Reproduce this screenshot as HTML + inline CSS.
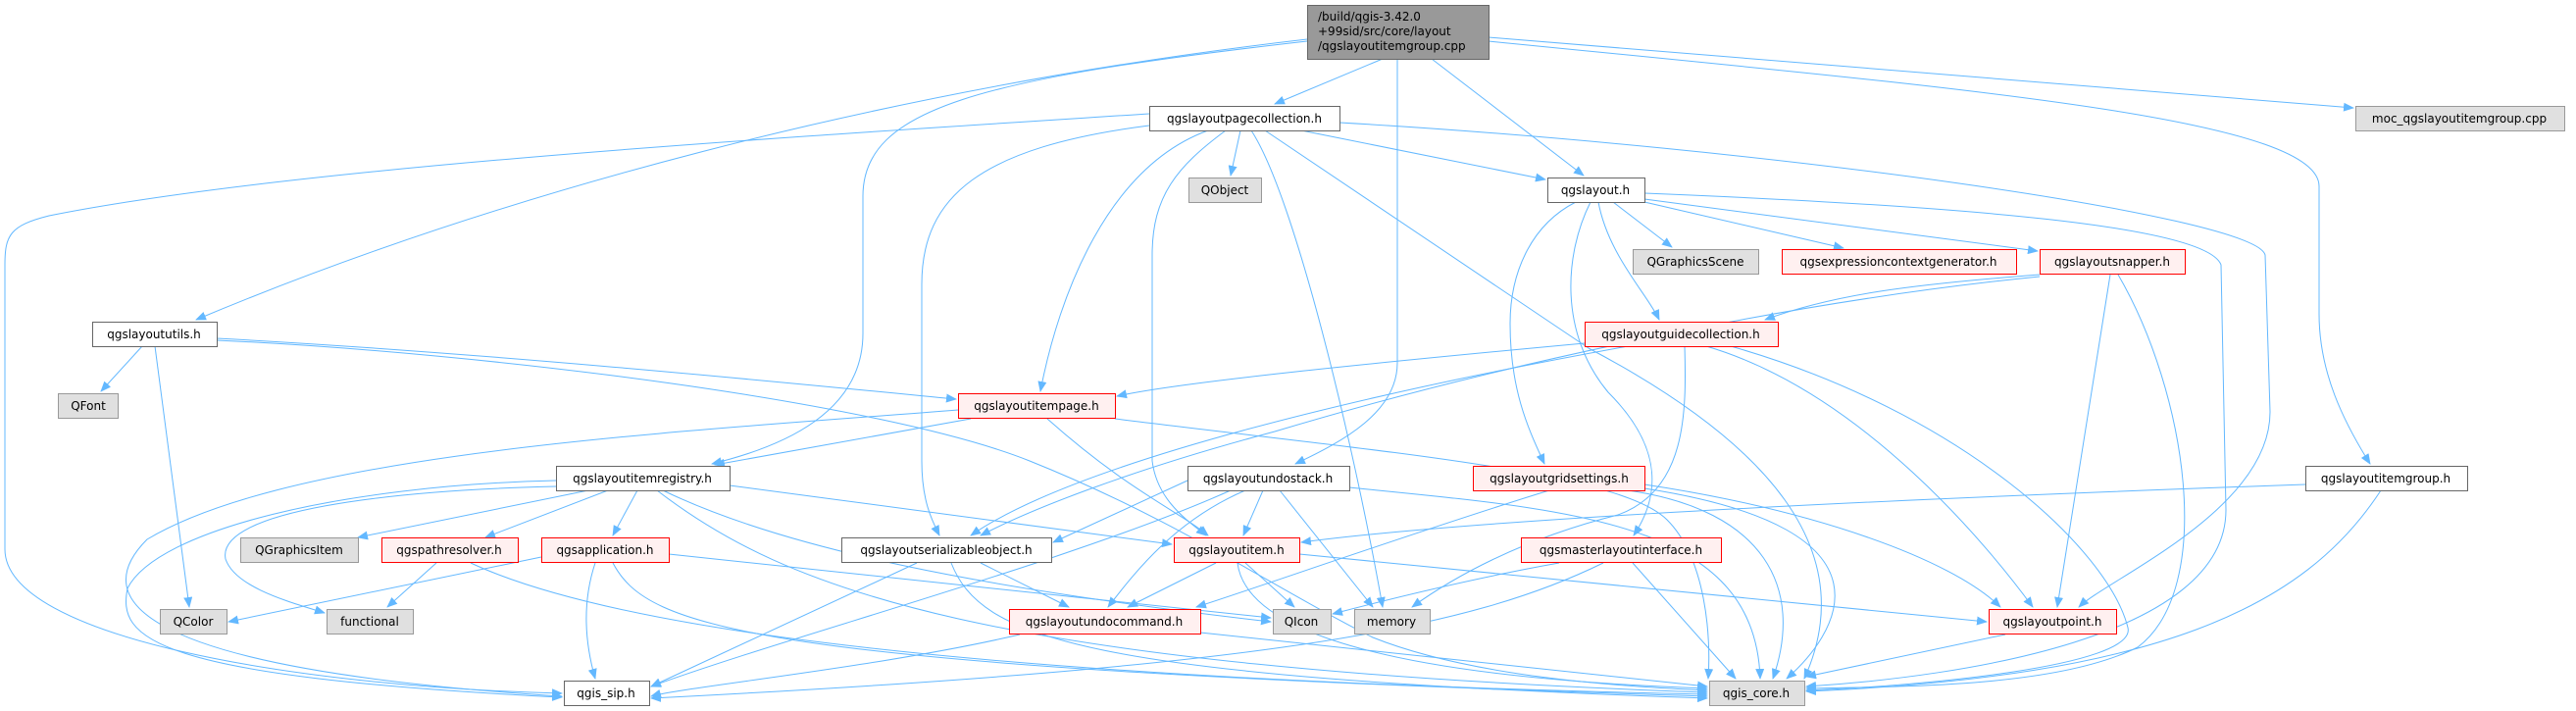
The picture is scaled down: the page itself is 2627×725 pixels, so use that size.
<!DOCTYPE html>
<html><head><meta charset="utf-8"><style>
html,body{margin:0;padding:0;background:#fff;}
svg{display:block;}
text{font-family:"DejaVu Sans","Liberation Sans",sans-serif;font-size:12px;fill:#000;}
.e{fill:none;stroke:#63b8ff;stroke-width:1;}
.w{fill:#fff;stroke:#666;}
.g{fill:#e0e0e0;stroke:#999;}
.r{fill:#fff0f0;stroke:#ff0000;}
</style></head><body>
<svg width="2627" height="725" viewBox="0 0 2627 725" xmlns="http://www.w3.org/2000/svg">
<defs><marker id="a" markerWidth="11" markerHeight="9" refX="10" refY="4.5" orient="auto" markerUnits="userSpaceOnUse"><path d="M0,0 L11,4.5 L0,9 z" fill="#63b8ff"/></marker></defs>
<g class="e" marker-end="url(#a)">
<path d="M1410,60 L1300,106"/>
<path d="M1460,60 L1615,179"/>
<path d="M1425,60 L1425,370 C1425,420 1370,450 1321,473"/>
<path d="M1333,40 C900,90 500,200 200,326"/>
<path d="M1333,42 C1000,80 880,110 880,200 L880,340 C880,420 800,455 726,473"/>
<path d="M1518,38 L2400,110"/>
<path d="M1518,42 C2000,90 2365,120 2365,190 L2365,320 C2365,380 2390,430 2417,473"/>
<path d="M1172,116 C800,140 300,170 50,220 C10,230 5,240 5,270 L5,560 C5,650 300,700 573,707"/>
<path d="M1172,128 C1000,150 940,200 940,290 L940,470 C940,510 950,530 958,546"/>
<path d="M1232,133 C1130,170 1080,300 1061,399"/>
<path d="M1265,133 L1255,179"/>
<path d="M1250,133 C1200,170 1175,200 1175,260 L1175,470 C1180,510 1210,530 1230,546"/>
<path d="M1276,133 C1320,200 1380,450 1410,619"/>
<path d="M1290,133 L1620,355 C1800,450 1900,560 1840,692"/>
<path d="M1327,133 L1576,183"/>
<path d="M1366,125 C1800,150 2300,220 2310,260 L2315,420 C2315,520 2150,590 2120,619"/>
<path d="M1645,206 L1705,252"/>
<path d="M1677,206 L1880,253"/>
<path d="M1677,203 L2078,256"/>
<path d="M1630,206 C1640,260 1680,300 1692,326"/>
<path d="M1607,206 C1560,230 1540,280 1540,330 C1540,400 1560,440 1575,473"/>
<path d="M1622,206 C1595,260 1590,340 1640,400 C1700,460 1690,510 1666,546"/>
<path d="M1677,197 C2000,210 2250,230 2265,270 L2270,520 C2270,650 2000,690 1842,700"/>
<path d="M2080,280 C1950,290 1870,300 1800,326"/>
<path d="M2080,282 C1800,310 1500,380 1300,440 C1150,480 1050,520 1000,546"/>
<path d="M2152,280 L2098,619"/>
<path d="M2160,280 C2230,400 2260,600 2180,660 C2100,700 1950,700 1842,702"/>
<path d="M1616,350 C1400,370 1200,390 1139,404"/>
<path d="M1660,353 C1400,400 1100,470 990,546"/>
<path d="M1718,353 C1720,420 1720,500 1650,525 C1550,550 1480,590 1440,619"/>
<path d="M1740,353 C1900,400 2030,560 2073,619"/>
<path d="M1765,353 C2000,420 2150,560 2170,640 C2180,680 1950,700 1842,704"/>
<path d="M145,353 L103,399"/>
<path d="M158,353 L193,619"/>
<path d="M221,345 C500,360 800,390 975,407"/>
<path d="M221,347 C500,360 900,410 1050,470 C1200,530 1300,600 1400,650 C1500,690 1650,700 1741,704"/>
<path d="M990,427 L729,474"/>
<path d="M977,418 C700,440 300,460 150,550 C100,600 100,680 573,710"/>
<path d="M1068,427 C1150,500 1200,520 1232,546"/>
<path d="M1137,427 C1400,460 1650,480 1700,530 C1740,570 1745,650 1742,692"/>
<path d="M600,500 L365,548"/>
<path d="M620,500 L495,548"/>
<path d="M650,500 L625,546"/>
<path d="M567,496 C400,500 220,520 230,570 C240,600 300,615 331,625"/>
<path d="M567,490 C350,495 160,540 130,600 C120,650 150,690 573,711"/>
<path d="M744,495 L1195,555"/>
<path d="M670,500 C800,600 1000,680 1741,706"/>
<path d="M676,500 C800,560 1000,600 1296,634"/>
<path d="M445,574 L395,619"/>
<path d="M480,574 C600,630 900,690 1741,708"/>
<path d="M552,568 L233,634"/>
<path d="M607,574 C595,610 595,650 607,692"/>
<path d="M625,574 C660,640 760,680 1741,710"/>
<path d="M682,565 L1296,630"/>
<path d="M1211,490 L1074,553"/>
<path d="M1288,500 L1268,546"/>
<path d="M1270,500 C1200,530 1160,580 1130,619"/>
<path d="M1305,500 L1400,619"/>
<path d="M1255,500 C1100,570 800,650 664,700"/>
<path d="M1376,497 C1600,520 1790,530 1795,692"/>
<path d="M1580,500 C1450,540 1280,600 1220,619"/>
<path d="M1677,494 C1850,520 1990,570 2040,619"/>
<path d="M1660,500 C1800,520 1840,600 1808,692"/>
<path d="M1677,498 C1950,540 1870,650 1822,692"/>
<path d="M2351,494 C1900,510 1500,530 1327,553"/>
<path d="M2428,500 C2350,620 2200,690 1842,705"/>
<path d="M935,574 L664,700"/>
<path d="M1000,574 L1090,619"/>
<path d="M970,574 C1000,650 1100,690 1741,712"/>
<path d="M1240,574 L1150,619"/>
<path d="M1270,574 L1320,619"/>
<path d="M1325,565 L2026,634"/>
<path d="M1262,574 C1270,640 1400,690 1741,702"/>
<path d="M1590,574 C1500,590 1420,610 1359,626"/>
<path d="M1635,574 C1500,640 1300,680 664,712"/>
<path d="M1665,574 L1770,692"/>
<path d="M1040,647 C900,680 700,700 664,710"/>
<path d="M1224,645 L1741,700"/>
<path d="M2045,647 L1842,690"/>
</g>
<g stroke-width="1">
<rect x="1333.5" y="5.5" width="185" height="55" fill="#999" stroke="#666"/>
<rect class="w" x="1172.5" y="108.5" width="194" height="25"/>
<rect class="g" x="2402.5" y="108.5" width="213" height="25"/>
<rect class="g" x="1212.5" y="181.5" width="74" height="25"/>
<rect class="w" x="1578.5" y="181.5" width="99" height="25"/>
<rect class="g" x="1665.5" y="254.5" width="128" height="25"/>
<rect class="r" x="1817.5" y="254.5" width="239" height="25"/>
<rect class="r" x="2080.5" y="254.5" width="148" height="25"/>
<rect class="w" x="94.5" y="328.5" width="127" height="25"/>
<rect class="g" x="59.5" y="401.5" width="61" height="25"/>
<rect class="r" x="1616.5" y="328.5" width="197" height="25"/>
<rect class="r" x="977.5" y="401.5" width="160" height="25"/>
<rect class="w" x="567.5" y="475.5" width="177" height="25"/>
<rect class="w" x="1211.5" y="475.5" width="165" height="25"/>
<rect class="r" x="1502.5" y="475.5" width="175" height="25"/>
<rect class="w" x="2351.5" y="475.5" width="165" height="25"/>
<rect class="g" x="245.5" y="548.5" width="120" height="25"/>
<rect class="r" x="389.5" y="548.5" width="139" height="25"/>
<rect class="r" x="552.5" y="548.5" width="130" height="25"/>
<rect class="w" x="858.5" y="548.5" width="214" height="25"/>
<rect class="r" x="1197.5" y="548.5" width="128" height="25"/>
<rect class="r" x="1551.5" y="548.5" width="204" height="25"/>
<rect class="g" x="163.5" y="621.5" width="68" height="25"/>
<rect class="g" x="333.5" y="621.5" width="88" height="25"/>
<rect class="r" x="1029.5" y="621.5" width="195" height="25"/>
<rect class="g" x="1298.5" y="621.5" width="59" height="25"/>
<rect class="g" x="1381.5" y="621.5" width="77" height="25"/>
<rect class="r" x="2028.5" y="621.5" width="130" height="25"/>
<rect class="w" x="575.5" y="694.5" width="87" height="25"/>
<rect class="g" x="1743.5" y="694.5" width="97" height="25"/>
</g>
<g>
<text x="1344" y="21">/build/qgis-3.42.0</text>
<text x="1344" y="36">+99sid/src/core/layout</text>
<text x="1344" y="51">/qgslayoutitemgroup.cpp</text>
</g>
<g text-anchor="middle">
<text x="1269" y="125">qgslayoutpagecollection.h</text>
<text x="2508" y="125">moc_qgslayoutitemgroup.cpp</text>
<text x="1249" y="198">QObject</text>
<text x="1627" y="198">qgslayout.h</text>
<text x="1729" y="271">QGraphicsScene</text>
<text x="1936" y="271">qgsexpressioncontextgenerator.h</text>
<text x="2154" y="271">qgslayoutsnapper.h</text>
<text x="157" y="345">qgslayoututils.h</text>
<text x="90" y="418">QFont</text>
<text x="1714" y="345">qgslayoutguidecollection.h</text>
<text x="1057" y="418">qgslayoutitempage.h</text>
<text x="655" y="492">qgslayoutitemregistry.h</text>
<text x="1293" y="492">qgslayoutundostack.h</text>
<text x="1590" y="492">qgslayoutgridsettings.h</text>
<text x="2433" y="492">qgslayoutitemgroup.h</text>
<text x="305" y="565">QGraphicsItem</text>
<text x="458" y="565">qgspathresolver.h</text>
<text x="617" y="565">qgsapplication.h</text>
<text x="965" y="565">qgslayoutserializableobject.h</text>
<text x="1261" y="565">qgslayoutitem.h</text>
<text x="1653" y="565">qgsmasterlayoutinterface.h</text>
<text x="197" y="638">QColor</text>
<text x="377" y="638">functional</text>
<text x="1126" y="638">qgslayoutundocommand.h</text>
<text x="1327" y="638">QIcon</text>
<text x="1419" y="638">memory</text>
<text x="2093" y="638">qgslayoutpoint.h</text>
<text x="618" y="711">qgis_sip.h</text>
<text x="1791" y="711">qgis_core.h</text>
</g>
</svg>
</body></html>
